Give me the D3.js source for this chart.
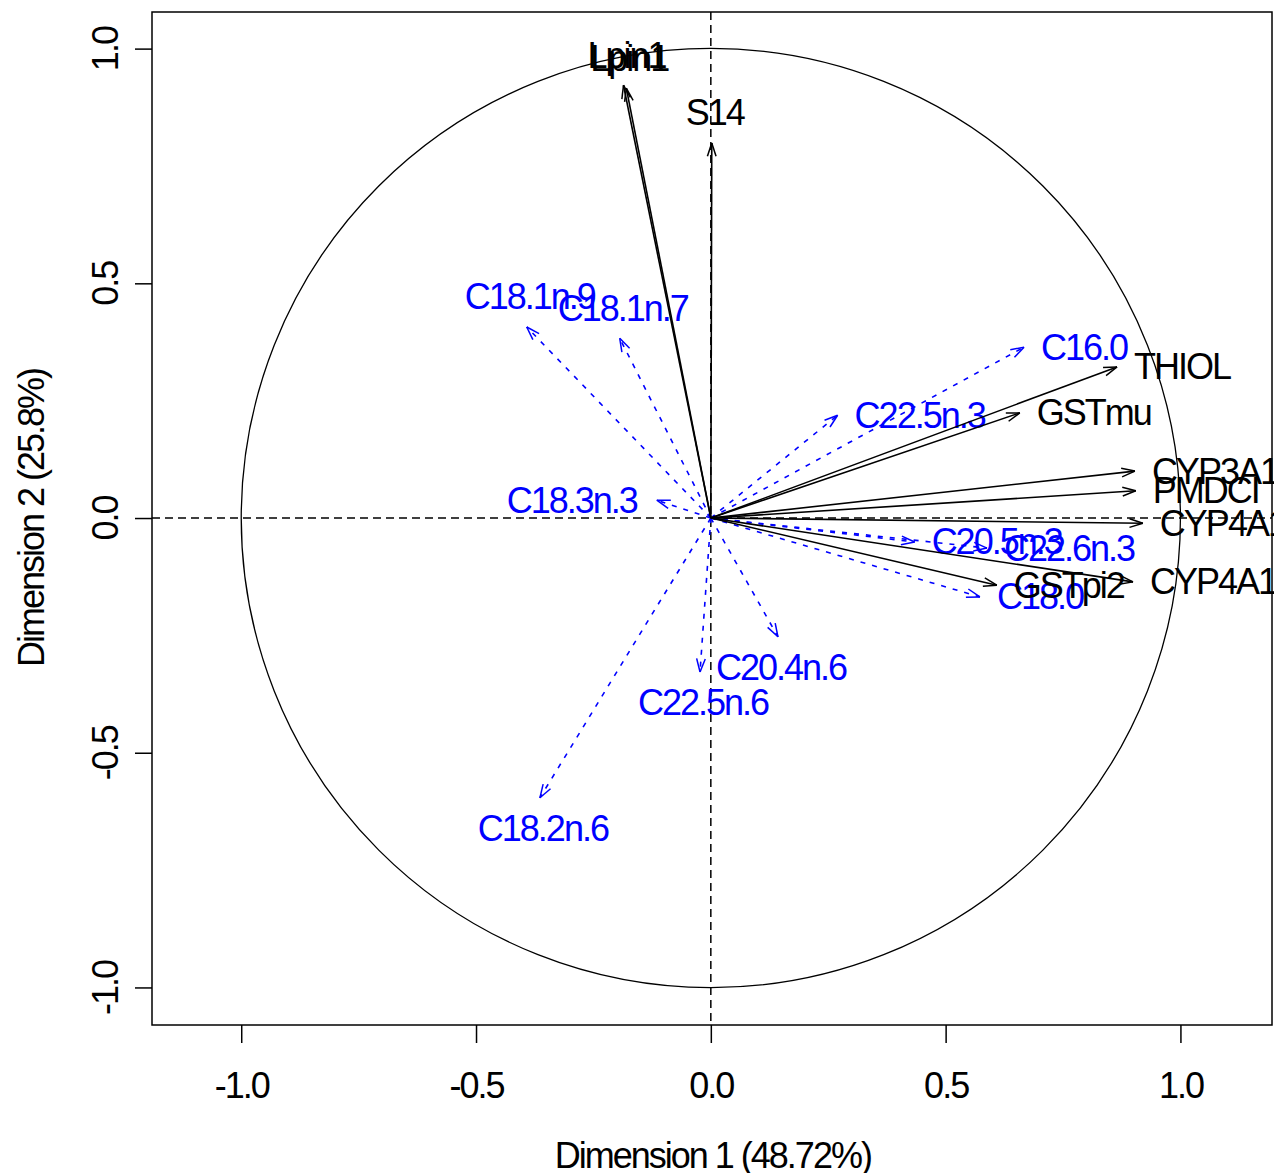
<html>

<head>
    <script src="https://d3js.org/d3.v7.min.js"></script>
    <style>
        body { margin: 0; background: #fff; }
        text { font-family: "Liberation Sans", Arial, sans-serif; font-size: 36px; letter-spacing: -2px; }
    </style>
</head>

<body>
    <div id="chart">
        <svg width="1274" height="1173"></svg>
    </div>
    <script>
        // gene variables (black arrows)
        var geneNames = ["Lpin1", "Lpin1", "S14", "THIOL", "GSTmu", "CYP3A1", "PMDCI", "CYP4A10", "CYP4A14", "GSTpi2"]
        var geneX = [-0.186, -0.180, 0.002, 0.865, 0.658, 0.903, 0.905, 0.920, 0.899, 0.609]
        var geneY = [0.922, 0.916, 0.799, 0.322, 0.224, 0.100, 0.058, -0.011, -0.136, -0.143]

        // fatty acid variables (blue dashed arrows)
        var faNames = ["C18.1n.9", "C18.1n.7", "C18.3n.3", "C16.0", "C22.5n.3", "C20.5n.3", "C22.6n.3", "C18.0", "C20.4n.6", "C22.5n.6", "C18.2n.6"]
        var faX = [-0.392, -0.194, -0.115, 0.667, 0.270, 0.434, 0.588, 0.573, 0.143, -0.023, -0.364]
        var faY = [0.407, 0.383, 0.038, 0.364, 0.219, -0.051, -0.064, -0.168, -0.253, -0.328, -0.596]

        var ticks = [-1, -0.5, 0, 0.5, 1]
        var xTitle = "Dimension 1 (48.72%)"
        var yTitle = "Dimension 2 (25.8%)"

        var svg = d3.select("#chart svg")
        // note: "top" is a reserved window property, so use box* names
        var boxL = 152, boxR = 1272, boxT = 12, boxB = 1025

        var xScale = d3.scaleLinear()
            .domain([-1.19, 1.195])
            .range([boxL, boxR])
        var yScale = d3.scaleLinear()
            .domain([-1.08, 1.078])
            .range([boxB, boxT])

        // correlation circle
        svg.append("circle")
            .attr("cx", xScale(0))
            .attr("cy", yScale(0))
            .attr("r", xScale(1) - xScale(0))
            .style("fill", "none")
            .style("stroke", "#000")
            .style("stroke-width", 1.3)

        // dashed zero lines
        svg.append("line")
            .attr("x1", boxL).attr("x2", boxR)
            .attr("y1", yScale(0)).attr("y2", yScale(0))
            .style("stroke", "#000").style("stroke-width", 1.5).style("stroke-dasharray", "8,5")
        svg.append("line")
            .attr("x1", xScale(0)).attr("x2", xScale(0))
            .attr("y1", boxT).attr("y2", boxB)
            .style("stroke", "#000").style("stroke-width", 1.5).style("stroke-dasharray", "8,5")

        function drawArrows(names, xs, ys, color, dash) {
            var data = names.map(function(n, i) { return { name: n, x: xs[i], y: ys[i] } })
            var g = svg.append("g")
            data.forEach(function(d) {
                var x0 = xScale(0), y0 = yScale(0)
                var x1 = xScale(d.x), y1 = yScale(d.y)
                g.append("line")
                    .attr("x1", x0).attr("y1", y0)
                    .attr("x2", x1).attr("y2", y1)
                    .style("stroke", color).style("stroke-width", 1.6)
                    .style("stroke-dasharray", dash)
                // open arrow head
                var ang = Math.atan2(y1 - y0, x1 - x0)
                var len = 14, spread = 18 * Math.PI / 180
                ;[-1, 1].forEach(function(s) {
                    g.append("line")
                        .attr("x1", x1).attr("y1", y1)
                        .attr("x2", x1 - len * Math.cos(ang + s * spread))
                        .attr("y2", y1 - len * Math.sin(ang + s * spread))
                        .style("stroke", color).style("stroke-width", 1.5)
                })
                // label placed beside or above/below the tip
                var t = g.append("text")
                    .text(d.name)
                    .style("fill", color)
                    .attr("dominant-baseline", "central")
                if (Math.abs(d.x) >= Math.abs(d.y)) {
                    t.attr("x", d.x >= 0 ? x1 + 17 : x1 - 20)
                        .attr("y", y1)
                        .attr("text-anchor", d.x >= 0 ? "start" : "end")
                } else {
                    t.attr("x", x1 + 3)
                        .attr("y", d.y >= 0 ? y1 - 30 : y1 + 31)
                        .attr("text-anchor", "middle")
                }
            })
        }

        drawArrows(faNames, faX, faY, "#0000ff", "5,7")
        drawArrows(geneNames, geneX, geneY, "#000", null)

        // box
        svg.append("rect")
            .attr("x", boxL).attr("y", boxT)
            .attr("width", boxR - boxL).attr("height", boxB - boxT)
            .style("fill", "none").style("stroke", "#000").style("stroke-width", 1.5)

        var fmt = function(d) { return d.toFixed(1) }

        var xAxis = d3.axisBottom(xScale).tickValues(ticks).tickFormat(fmt).tickSize(18).tickPadding(29)
        var gx = svg.append("g")
            .attr("transform", "translate(0," + boxB + ")")
            .call(xAxis)
        gx.select(".domain").remove()
        gx.selectAll("line").style("stroke-width", 1.5)
        gx.selectAll("text").style("font-size", "36px").style("font-family", null)

        var yAxis = d3.axisLeft(yScale).tickValues(ticks).tickFormat(fmt).tickSize(17)
        var gy = svg.append("g")
            .attr("transform", "translate(" + boxL + ",0)")
            .call(yAxis)
        gy.select(".domain").remove()
        gy.selectAll("line").style("stroke-width", 1.5)
        gy.selectAll("text")
            .style("font-size", "36px").style("font-family", null)
            .attr("transform", "rotate(-90)")
            .attr("x", 0)
            .attr("y", -34)
            .attr("dy", 0)
            .attr("text-anchor", "middle")

        // axis titles
        svg.append("text")
            .attr("x", (xScale(0) + 2))
            .attr("y", 1168)
            .attr("text-anchor", "middle")
            .text(xTitle)
        svg.append("text")
            .attr("transform", "translate(44," + yScale(0) + ") rotate(-90)")
            .attr("text-anchor", "middle")
            .text(yTitle)
    </script>

</body>

</html>
